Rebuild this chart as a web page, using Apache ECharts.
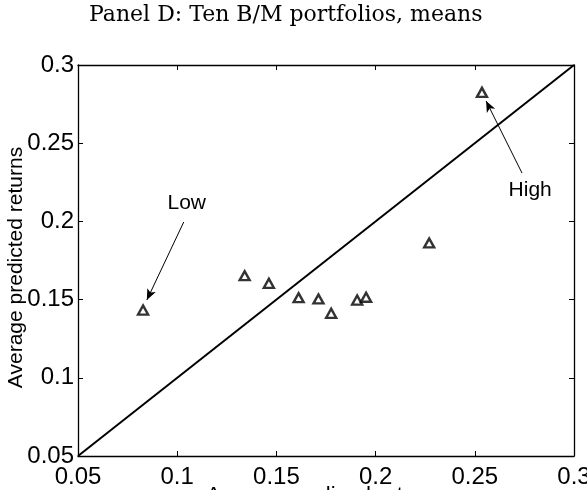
<!DOCTYPE html>
<html>
<head>
<meta charset="utf-8">
<script src="https://cdn.jsdelivr.net/npm/echarts@6/dist/echarts.min.js"></script>
<style>
  html, body { margin: 0; padding: 0; background: #fff; }
  #chart { width: 587px; height: 490px; }
</style>
</head>
<body>
<div id="chart"></div>
<script>
// Ten book-to-market portfolios: average realized vs. average predicted returns
const realized  = [0.0828, 0.1340, 0.1462, 0.1612, 0.1712, 0.1776, 0.1907, 0.1952, 0.2270, 0.2536];
const predicted = [0.1433, 0.1653, 0.1604, 0.1512, 0.1504, 0.1412, 0.1497, 0.1515, 0.1862, 0.2825];

// 45-degree reference line endpoints
const diagonal = [0.05, 0.30];

// Axis range and tick step
const axisMin = 0.05, axisMax = 0.30, axisStep = 0.05;

// Annotation labels and arrows (data coordinates)
const noteText   = ['Low', 'High'];
const noteAt     = [[0.1048, 0.2118], [0.2779, 0.2200]];
const arrowFrom  = [[0.1033, 0.1996], [0.2738, 0.2309]];
const arrowTo    = [[0.0847, 0.1497], [0.2557, 0.2770]];

const sans = 'Liberation Sans, Arial, Helvetica, sans-serif';
const ink = '#000';

const points = realized.map((x, i) => [x, predicted[i]]);

function axisBase(extra) {
  return Object.assign({
    type: 'value',
    min: axisMin, max: axisMax, interval: axisStep,
    axisLine: { show: true, onZero: false, lineStyle: { color: ink, width: 1.3 } },
    axisTick: { show: true, inside: true, length: 5, lineStyle: { color: ink, width: 1 } },
    splitLine: { show: false },
    axisLabel: { color: ink, fontFamily: sans, fontSize: 24 }
  }, extra);
}

const chart = echarts.init(document.getElementById('chart'), null, { renderer: 'canvas' });

chart.setOption({
  animation: false,
  backgroundColor: '#fff',
  title: {
    text: 'Panel D: Ten B/M portfolios, means',
    left: 84,
    top: -1,
    textStyle: { fontFamily: 'DejaVu Serif, serif', fontWeight: 'normal', fontSize: 22, color: ink }
  },
  grid: { left: 78, right: 13, top: 65, bottom: 34, containLabel: false, outerBoundsMode: 'none' },
  xAxis: [
    axisBase({
      position: 'bottom',
      name: 'Average realized returns',
      nameLocation: 'middle',
      nameGap: 29,
      nameMoveOverlap: false,
      nameTextStyle: { color: ink, fontFamily: sans, fontSize: 22, verticalAlign: 'top' },
      axisLabel: { color: ink, fontFamily: sans, fontSize: 24, margin: 9, showMaxLabel: true, showMinLabel: true }
    }),
    axisBase({ position: 'top', axisLabel: { show: false } })
  ],
  yAxis: [
    axisBase({
      position: 'left',
      name: 'Average predicted returns',
      nameLocation: 'middle',
      nameGap: 51,
      nameMoveOverlap: false,
      nameTextStyle: { color: ink, fontFamily: sans, fontSize: 21, padding: [0, 14, 0, 0] },
      axisLabel: { color: ink, fontFamily: sans, fontSize: 24, margin: 4, showMaxLabel: true, showMinLabel: true }
    }),
    axisBase({ position: 'right', axisLabel: { show: false } })
  ],
  series: [
    {
      type: 'line',
      data: [[diagonal[0], diagonal[0]], [diagonal[1], diagonal[1]]],
      symbol: 'none',
      lineStyle: { color: ink, width: 2 },
      z: 2,
      markLine: {
        silent: true,
        symbol: ['none', 'arrow'],
        symbolSize: [7, 11],
        lineStyle: { color: ink, width: 1, type: 'solid' },
        label: { show: false },
        data: arrowFrom.map((f, i) => [{ coord: f }, { coord: arrowTo[i] }])
      },
      markPoint: {
        silent: true,
        symbol: 'circle',
        symbolSize: 0,
        label: {
          show: true,
          position: 'inside',
          color: ink,
          fontFamily: sans,
          fontSize: 21,
          formatter: p => p.name
        },
        data: noteText.map((t, i) => ({ name: t, coord: noteAt[i] }))
      }
    },
    {
      type: 'scatter',
      data: points,
      symbol: 'triangle',
      symbolSize: [10, 9],
      itemStyle: { color: '#fff', borderColor: ink, borderWidth: 2.4 },
      z: 3
    }
  ]
});
</script>
</body>
</html>
